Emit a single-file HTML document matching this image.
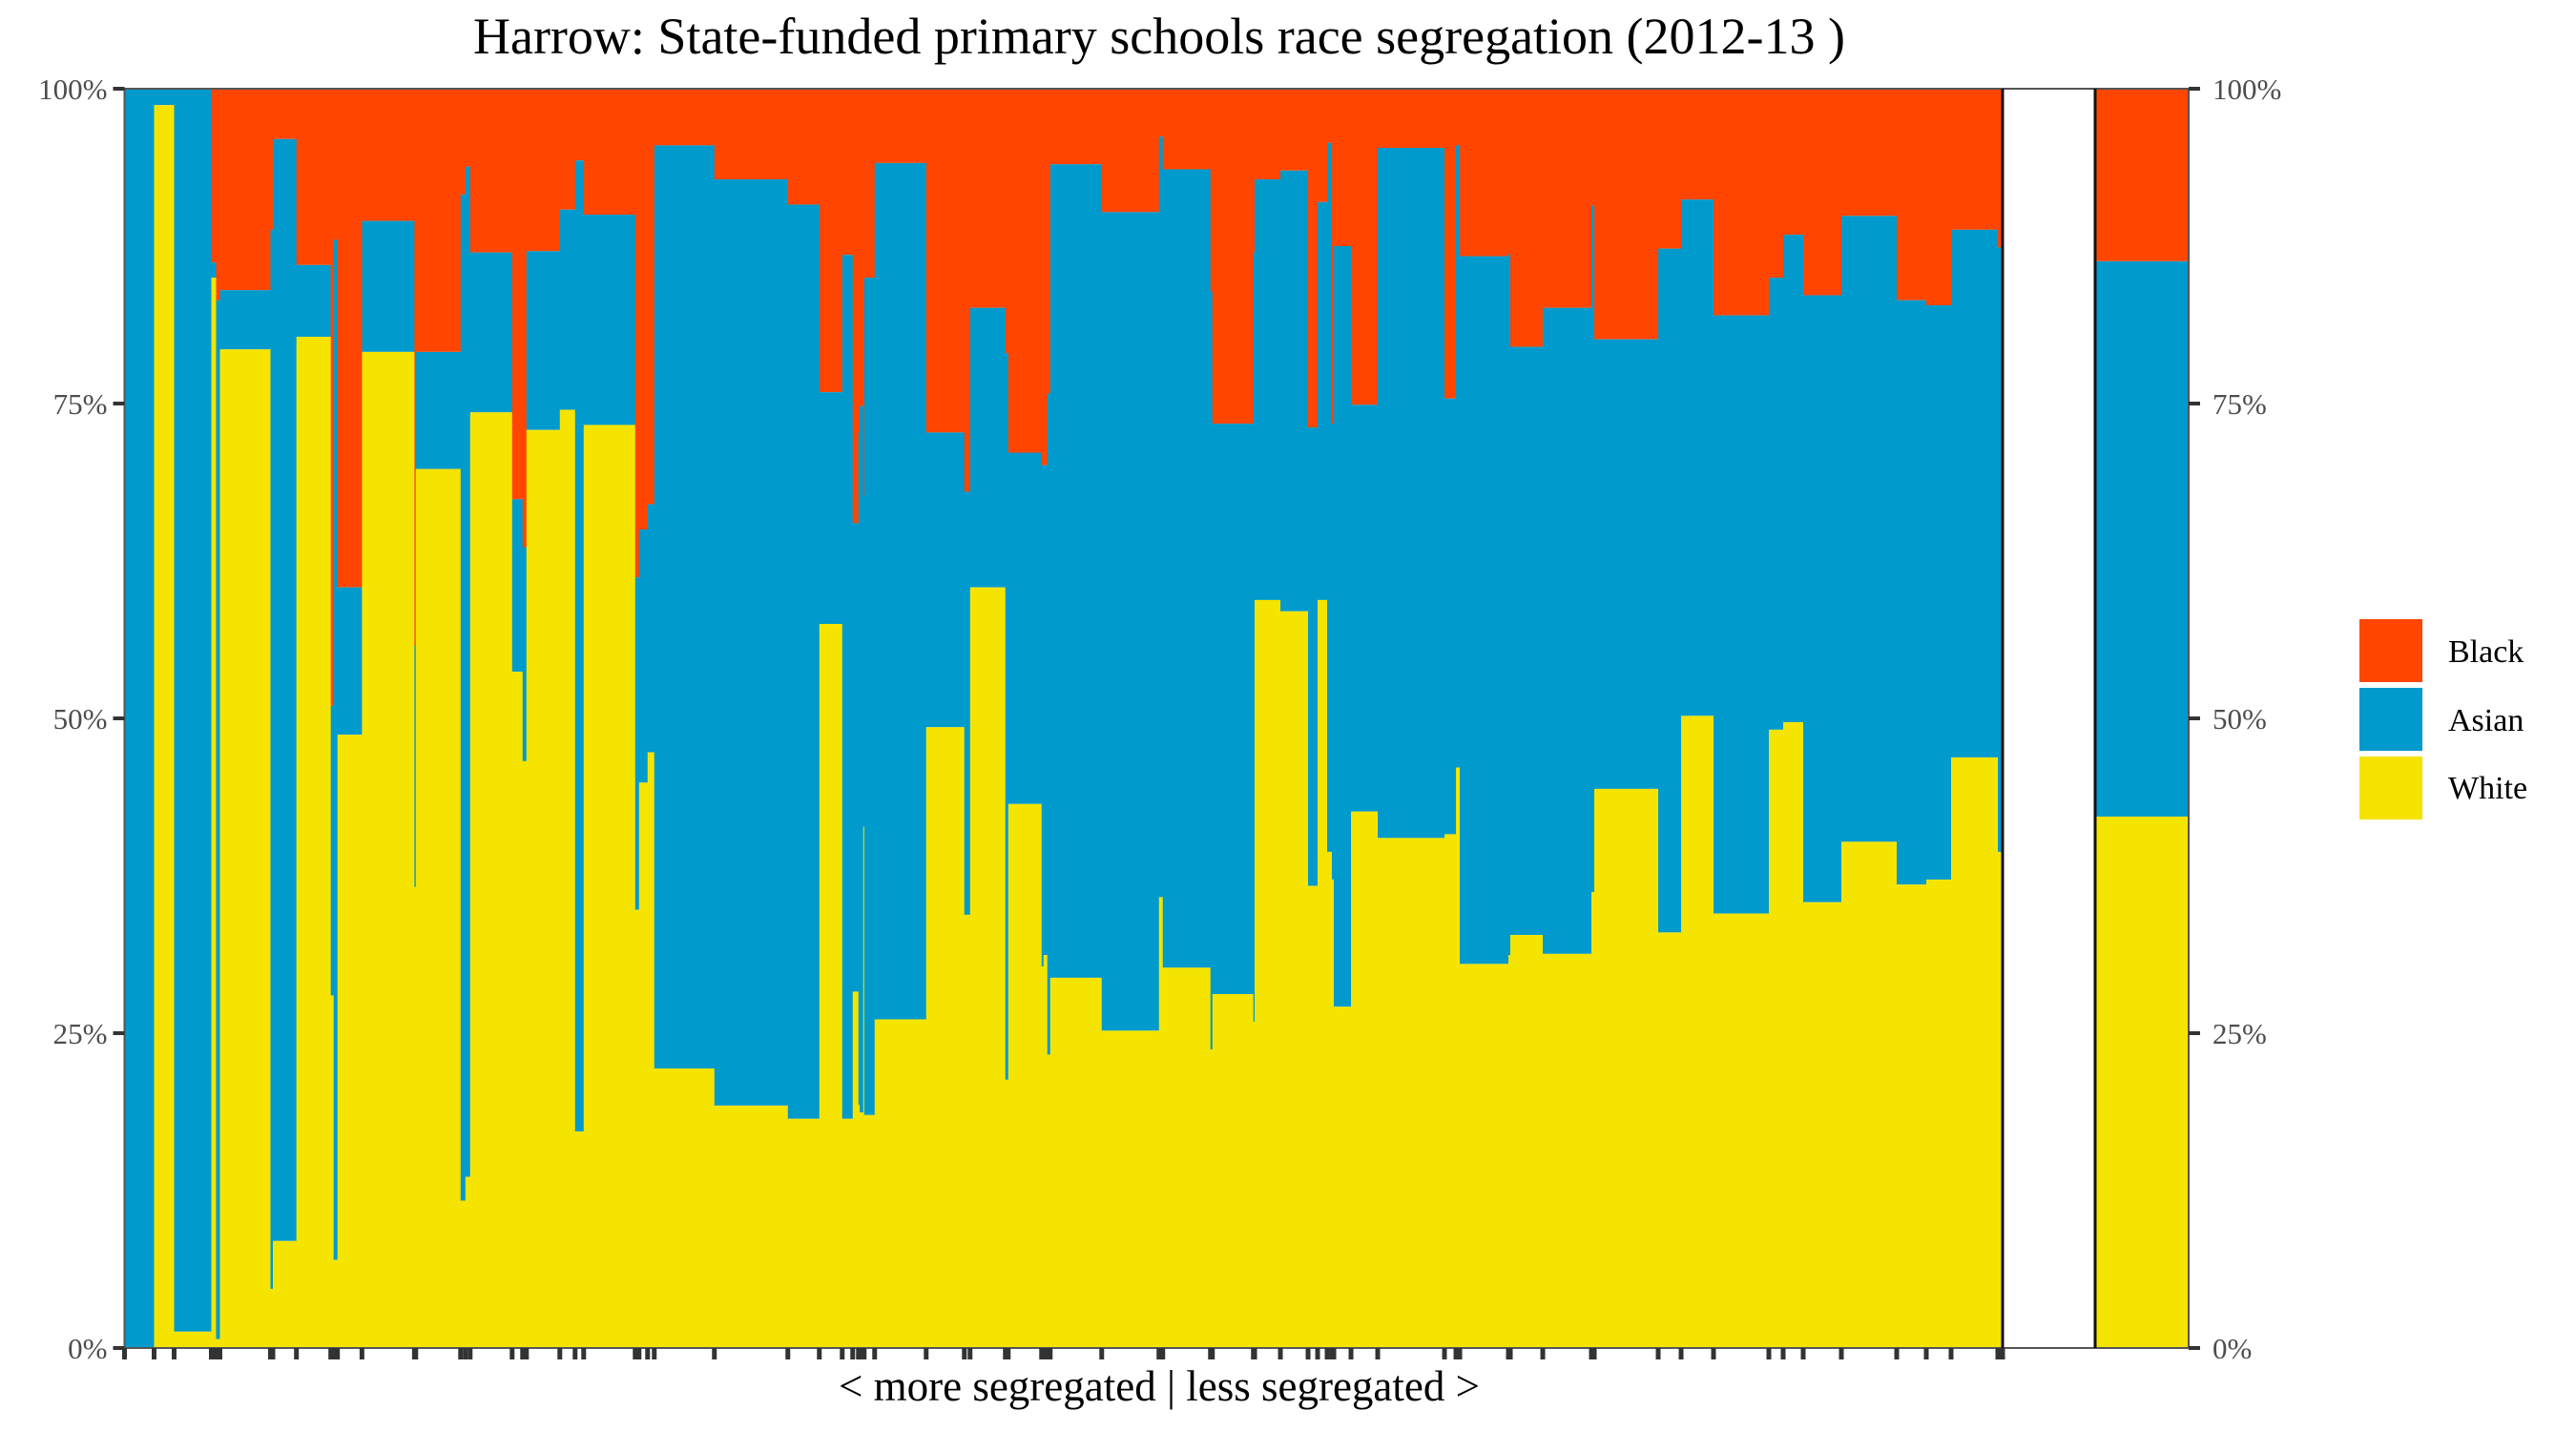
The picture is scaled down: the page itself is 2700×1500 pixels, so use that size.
<!DOCTYPE html>
<html><head><meta charset="utf-8"><style>
html,body{margin:0;padding:0;background:#fff;}
svg{display:block;}
text{font-family:"Liberation Serif",serif;}
</style></head><body>
<svg id="chart" width="2700" height="1500" viewBox="0 0 2700 1500" xmlns="http://www.w3.org/2000/svg">
<text x="1215" y="56" font-size="54" text-anchor="middle" fill="#000">Harrow: State-funded primary schools race segregation (2012-13 )</text>
<g id="bars"></g>
<g id="summary"></g>
<g id="axes"></g>
<text x="1215" y="1468" font-size="45" text-anchor="middle" fill="#000">&lt; more segregated | less segregated &gt;</text>
<g>
<rect x="2473" y="649" width="66" height="66" fill="#FF4500"/>
<text x="2566" y="694" font-size="34" fill="#000">Black</text>
<rect x="2473" y="721" width="66" height="66" fill="#009ACD"/>
<text x="2566" y="766" font-size="34" fill="#000">Asian</text>
<rect x="2473" y="793" width="66" height="66" fill="#F5E400"/>
<text x="2566" y="837" font-size="34" fill="#000">White</text>
</g>
</svg>
<script>
// school sizes (relative pupil counts), white share %, white+asian share %
const schoolSizes = [31,21,39,5,4,53,2.5,24.7,36,3,4,25.7,55,1.4,47,5,5,44,11,4,35,16,9,54,4,9,7,63,77,33,24,11,6,1.3,3.7,1,11,54,40,6,37,3,35,2,4,3,54,60,4,50,2,43,1.3,27,29,10,10,5,2,18,28,70,12,4,51,2,34,51,3,67,24,34,58,15,21,40,58,31,26,49,5];
const whiteShare = [0,98.7,1.3,85,0.7,79.3,4.7,8.5,80.3,28,7,48.7,79.1,36.6,69.8,11.7,13.6,74.3,53.7,46.6,72.9,74.5,17.2,73.3,34.8,44.9,47.3,22.2,19.25,18.2,57.5,18.2,28.3,19.3,18.7,41.4,18.5,26.1,49.3,34.4,60.4,21.3,43.2,30.3,31.2,23.3,29.4,25.2,35.8,30.2,23.7,28.1,25.9,59.4,58.5,36.7,59.4,39.4,37.2,27.1,42.6,40.5,40.8,46.1,30.5,31.2,32.8,31.3,36.2,44.4,33.0,50.2,34.5,49.1,49.7,35.4,40.2,36.8,37.2,46.9,39.4];
const whiteAsianShare = [100,100,100,86.2,83.2,84.0,88.8,96,86.0,51,88,60.4,89.5,55.8,79.1,91.6,93.8,87.0,67.4,63.6,87.1,90.4,94.3,90.0,61.2,65.0,67.0,95.5,92.8,90.8,75.9,86.8,65.5,72.7,74.8,67.7,85.0,94.1,72.7,68.0,82.6,79.0,71.1,70.1,70.1,75.8,94.0,90.2,96.2,93.6,83.9,73.4,87.0,92.8,93.5,73.1,91.0,95.7,73.4,87.5,74.9,95.3,75.4,95.5,86.7,86.9,79.5,82.6,90.7,80.1,87.3,91.2,82.0,85.0,88.4,83.6,89.9,83.2,82.8,88.8,87.4];
const summaryWhite = 42.2;
const summaryWhiteAsian = 86.3;
const yTicks = [0,25,50,75,100];
const yTickLabels = ["0%","25%","50%","75%","100%"];

const NS = "http://www.w3.org/2000/svg";
const X0 = 130.5, X1 = 2099, Y0 = 93, Y1 = 1413;
const SX0 = 2196, SX1 = 2294;
const total = schoolSizes.reduce((a,b)=>a+b,0);
function xScale(cum){ return X0 + cum/total*(X1-X0); }
function yScale(p){ return Y1 - p/100*(Y1-Y0); }
const COL = {black:"#FF4500", asian:"#009ACD", white:"#F5E400"};
function mk(tag, attrs, parent){ const e=document.createElementNS(NS,tag); for(const k in attrs) e.setAttribute(k,attrs[k]); parent.appendChild(e); return e; }

const bars = document.getElementById('bars');
let cum = 0;
const edges = [];
schoolSizes.forEach((s,i)=>{
  const xa = xScale(cum), xb = xScale(cum+s);
  edges.push(xa);
  cum += s;
  const w = xb-xa+0.6;
  const segs = [
    ['black', whiteAsianShare[i], 100],
    ['asian', whiteShare[i], whiteAsianShare[i]],
    ['white', 0, whiteShare[i]]
  ];
  segs.forEach(([g,lo,hi])=>{
    if(hi-lo<=0) return;
    const r = mk('rect',{x:xa,y:yScale(hi),width:w,height:yScale(lo)-yScale(hi),fill:COL[g]},bars);
    
    
  });
});

const summ = document.getElementById('summary');
[['black',summaryWhiteAsian,100],['asian',summaryWhite,summaryWhiteAsian],['white',0,summaryWhite]].forEach(([g,lo,hi])=>{
  const r = mk('rect',{x:SX0,y:yScale(hi),width:SX1-SX0,height:yScale(lo)-yScale(hi),fill:COL[g]},summ);
  
  
});

const ax = document.getElementById('axes');
const fr = mk('rect',{x:X0,y:Y0,width:SX1-X0,height:Y1-Y0,fill:"none",stroke:"#555",'stroke-width':2},ax);


[X1,SX0].forEach(x=>{
  const l = mk('line',{x1:x,x2:x,y1:Y0,y2:Y1,stroke:"#111",'stroke-width':3},ax);
  
  
});
yTicks.forEach((t,i)=>{
  const y = yScale(t);
  const tl = mk('line',{x1:X0-12,x2:X0,y1:y,y2:y,stroke:"#333",'stroke-width':4},ax);
  
  
  const tr = mk('line',{x1:SX1,x2:SX1+12,y1:y,y2:y,stroke:"#333",'stroke-width':4},ax);
  
  
  const a = mk('text',{x:X0-18,y:y+11,'font-size':31,'text-anchor':'end',fill:'#4d4d4d'},ax);
  a.textContent = yTickLabels[i];
  
  
  const b = mk('text',{x:SX1+25,y:y+11,'font-size':31,'text-anchor':'start',fill:'#4d4d4d'},ax);
  b.textContent = yTickLabels[i];
  
  
});
edges.push(X1);
edges.forEach(x=>{
  const t = mk('line',{x1:x,x2:x,y1:Y1,y2:Y1+12,stroke:"#333",'stroke-width':5},ax);
  
  
});
</script>
</body></html>
